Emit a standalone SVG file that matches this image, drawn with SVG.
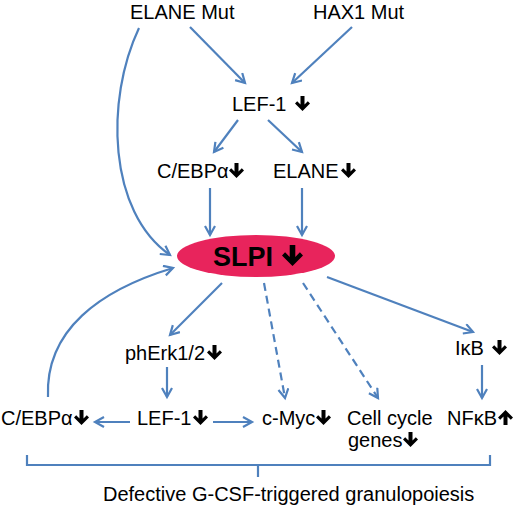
<svg xmlns="http://www.w3.org/2000/svg" width="520" height="510" viewBox="0 0 520 510">
<style>
text{font-family:"Liberation Sans",Arial,sans-serif;font-size:20px;fill:#000}
.big{font-size:27px;font-weight:bold}
.foot{font-size:20px}
.c{fill:none;stroke:#4f81bd;stroke-width:2.2;marker-end:url(#ah)}
.d{stroke-dasharray:8,5}
.br{fill:none;stroke:#4f81bd;stroke-width:2.2}
</style>
<defs>
<marker id="ah" markerUnits="userSpaceOnUse" markerWidth="14" markerHeight="14" refX="10" refY="6" orient="auto">
<path d="M1,1 L10,6 L1,11" fill="none" stroke="#4f81bd" stroke-width="2.2"/>
</marker>
<path id="dn" d="M5.5,0 H9.5 V8.5 L12.8,5.2 L15,7.5 L7.5,15 L0,7.5 L2.2,5.2 L5.5,8.5 Z" fill="#000"/>
</defs>
<g id="connectors">
<line class="c" x1="190" y1="27" x2="245" y2="83"/>
<line class="c" x1="352" y1="27" x2="292" y2="83"/>
<path class="c" d="M139,28 C105,100 108,212 170,255"/>
<line class="c" x1="238" y1="120" x2="214" y2="152"/>
<line class="c" x1="268" y1="120" x2="302" y2="152"/>
<line class="c" x1="210" y1="188" x2="210" y2="235"/>
<line class="c" x1="302" y1="188" x2="302" y2="235"/>
<path class="c" d="M48,397 C45,330 100,290 173,268"/>
<line class="c" x1="222" y1="283" x2="170" y2="335"/>
<line class="c d" x1="264" y1="283" x2="285" y2="398"/>
<line class="c d" x1="303" y1="283" x2="378" y2="398"/>
<line class="c" x1="327" y1="277" x2="473" y2="332"/>
<line class="c" x1="167" y1="367" x2="167" y2="397"/>
<line class="c" x1="482" y1="365" x2="482" y2="398"/>
<line class="c" x1="130" y1="422" x2="95" y2="422"/>
<line class="c" x1="213" y1="422" x2="252" y2="422"/>
<path class="br" d="M27,455 V465 H490 V455 M258,465 V477"/>
</g>
<g id="elane-mut"><text x="130" y="19">ELANE Mut</text></g>
<g id="hax1-mut"><text x="313" y="19">HAX1 Mut</text></g>
<g id="lef1-top"><text x="232" y="111">LEF-1</text><use href="#dn" x="295" y="96"/></g>
<g id="cebpa-top"><text x="157" y="178">C/EBPα</text><use href="#dn" x="229" y="163"/></g>
<g id="elane"><text x="273" y="178">ELANE</text><use href="#dn" x="341" y="163"/></g>
<g id="slpi">
<ellipse cx="256" cy="256" rx="79" ry="21" fill="#e8245c"/>
<text class="big" x="213" y="266">SLPI</text>
<use href="#dn" transform="translate(282,245) scale(1.4)"/>
</g>
<g id="pherk"><text x="125" y="360">phErk1/2</text><use href="#dn" x="207" y="345"/></g>
<g id="ikb"><text x="455" y="355">IκB</text><use href="#dn" x="492" y="340"/></g>
<g id="cebpa-bottom"><text x="1" y="425">C/EBPα</text><use href="#dn" x="74" y="410"/></g>
<g id="lef1-bottom"><text x="137" y="425">LEF-1</text><use href="#dn" x="193" y="410"/></g>
<g id="cmyc"><text x="262" y="425">c-Myc</text><use href="#dn" x="316" y="410"/></g>
<g id="cellcycle"><text x="347" y="425">Cell cycle</text><text x="348" y="447">genes</text><use href="#dn" x="403" y="432"/></g>
<g id="nfkb"><text x="447" y="425">NFκB</text><use href="#dn" transform="translate(513,425) rotate(180)"/></g>
<g id="outcome"><text class="foot" x="103" y="501">Defective G-CSF-triggered granulopoiesis</text></g>
</svg>
